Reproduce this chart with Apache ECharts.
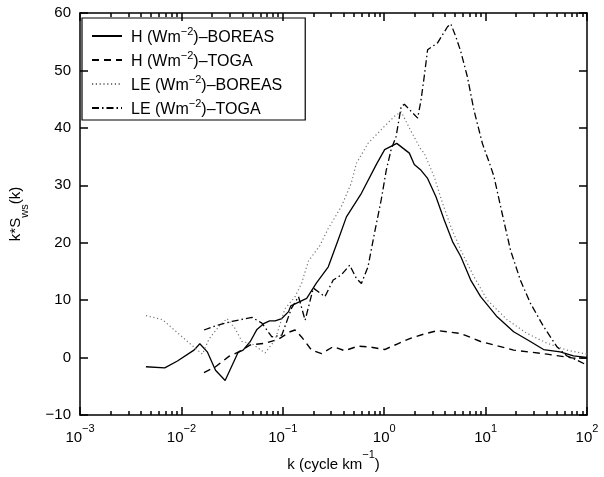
<!DOCTYPE html>
<html>
<head>
<meta charset="utf-8">
<script src="https://cdn.jsdelivr.net/npm/echarts@6/dist/echarts.min.js"></script>
<style>
  html, body { margin: 0; padding: 0; background: #fff; }
  #chart { width: 604px; height: 477px; }
</style>
</head>
<body>
<div id="chart"></div>
<script>
// series names (superscript handled in legend formatter)
const seriesNames = ['H BOREAS', 'H TOGA', 'LE BOREAS', 'LE TOGA']

// H (Wm-2) - BOREAS, solid
const hBoreasK = [0.00447, 0.00685, 0.00914, 0.0133, 0.0152, 0.0180, 0.0217, 0.0270, 0.0362, 0.0406, 0.0478, 0.0556, 0.0647, 0.0741, 0.0841, 0.0977, 0.114, 0.120, 0.172, 0.215, 0.281, 0.352, 0.424, 0.596, 0.835, 1.01, 1.33, 1.77, 1.98, 2.31, 2.68, 3.24, 3.90, 4.72, 5.69, 7.13, 8.93, 13.0, 18.9, 27.6, 37.3, 54.3, 73.5, 99.3]
const hBoreasV = [-1.6, -1.8, -0.6, 1.3, 2.4, 1.0, -2.2, -4.0, 0.9, 1.3, 2.8, 4.9, 5.9, 6.4, 6.4, 6.8, 8.0, 9.0, 10.3, 13.0, 15.8, 20.5, 24.5, 28.6, 33.6, 36.2, 37.3, 35.6, 33.6, 32.6, 31.2, 28.0, 24.0, 20.2, 17.6, 13.5, 10.6, 7.1, 4.5, 2.8, 1.4, 1.0, 0.3, 0.05]

// H (Wm-2) - TOGA, dashed
const hTogaK = [0.0167, 0.0217, 0.0294, 0.0368, 0.0478, 0.0670, 0.0908, 0.118, 0.132, 0.153, 0.192, 0.241, 0.314, 0.408, 0.552, 0.746, 1.01, 1.36, 1.84, 2.48, 3.36, 4.54, 5.69, 8.93, 18.9, 40.3, 73.5, 99.3]
const hTogaV = [-2.6, -1.6, 0.2, 1.0, 2.2, 2.5, 3.2, 4.5, 4.8, 3.6, 1.3, 0.7, 1.9, 1.2, 2.0, 1.8, 1.4, 2.4, 3.4, 4.1, 4.7, 4.4, 4.2, 2.8, 1.3, 0.6, -0.1, -0.1]

// LE (Wm-2) - BOREAS, dotted
const leBoreasK = [0.00447, 0.00652, 0.0102, 0.0144, 0.0161, 0.0187, 0.0234, 0.0282, 0.0340, 0.0396, 0.0497, 0.0670, 0.0841, 0.105, 0.132, 0.153, 0.179, 0.232, 0.281, 0.378, 0.474, 0.531, 0.692, 0.935, 1.26, 1.47, 1.84, 2.31, 2.48, 3.11, 3.76, 4.54, 5.69, 7.67, 10.4, 16.3, 25.6, 40.3, 63.2, 99.3]
const leBoreasV = [7.3, 6.6, 3.6, 1.3, 0.6, 3.2, 5.4, 6.8, 5.0, 2.8, 2.4, 0.8, 3.1, 8.5, 10.6, 12.9, 16.8, 19.5, 22.5, 26.3, 30.4, 33.8, 37.3, 39.7, 42.0, 42.8, 39.4, 36.2, 35.6, 31.5, 26.9, 22.8, 18.7, 14.1, 10.0, 6.6, 4.2, 2.5, 1.3, 0.6]

// LE (Wm-2) - TOGA, dash-dot
const leTogaK = [0.0167, 0.0234, 0.0316, 0.0497, 0.0622, 0.0780, 0.0977, 0.122, 0.143, 0.166, 0.200, 0.260, 0.314, 0.378, 0.457, 0.531, 0.596, 0.692, 0.803, 0.935, 1.05, 1.17, 1.31, 1.47, 1.58, 2.14, 2.31, 2.48, 2.68, 3.36, 4.21, 4.54, 5.08, 5.69, 6.61, 7.67, 9.29, 11.2, 12.1, 14.6, 17.6, 22.0, 27.6, 37.3, 50.5, 63.2, 85.3, 99.3]
const leTogaV = [4.8, 5.7, 6.3, 7.0, 6.0, 3.6, 3.9, 8.6, 10.6, 6.5, 12.1, 10.6, 13.5, 14.4, 16.1, 13.8, 12.9, 15.8, 21.7, 27.5, 32.7, 36.2, 38.5, 43.7, 44.1, 41.7, 44.9, 48.9, 53.6, 54.8, 57.6, 58.1, 55.9, 53.3, 48.9, 43.1, 37.3, 33.3, 31.5, 25.0, 18.7, 13.5, 9.5, 5.4, 1.9, 0.3, -0.7, -1.3]

// axis ticks
const xMajorTicks = [0.001, 0.01, 0.1, 1, 10, 100]
const xMinorTicks = []
for (let e = -3; e < 2; e++) {
  for (let m = 2; m < 10; m++) xMinorTicks.push(m * Math.pow(10, e))
}

const FONT = 'Liberation Sans, Arial, Helvetica, sans-serif'
const zip = (ks, vs) => ks.map((k, i) => [k, vs[i]])

function makeRich(size, supSize, lh) {
  return {
    t: { fontSize: size, fontFamily: FONT, color: '#000', lineHeight: lh, verticalAlign: 'bottom' },
    s: { fontSize: supSize, fontFamily: FONT, color: '#000', lineHeight: supSize + 2, verticalAlign: 'top' }
  }
}
const tickRich = makeRich(15, 11, 22)
const legendRich = makeRich(16, 11, 20)

const legendLabels = {
  'H BOREAS': '{t|H (Wm}{s|−2}{t|)–BOREAS}',
  'H TOGA': '{t|H (Wm}{s|−2}{t|)–TOGA}',
  'LE BOREAS': '{t|LE (Wm}{s|−2}{t|)–BOREAS}',
  'LE TOGA': '{t|LE (Wm}{s|−2}{t|)–TOGA}'
}

function expLabel(v) {
  const e = Math.round(Math.log10(v))
  return '{t|10}{s|' + (e < 0 ? '−' + (-e) : e) + '}'
}

const axisLineStyle = { color: '#000', width: 1.5 }

function logAxis(position, opts) {
  return Object.assign({
    type: 'log',
    logBase: 10,
    min: 0.001,
    max: 100,
    position: position,
    axisLine: { show: true, onZero: false, lineStyle: axisLineStyle },
    axisLabel: { show: false },
    splitLine: { show: false }
  }, opts)
}

const myChart = echarts.init(document.getElementById('chart'))
myChart.setOption({
  animation: false,
  backgroundColor: '#fff',
  grid: { left: 77, right: 17, top: 13, bottom: 62 },
  legend: {
    orient: 'vertical',
    left: 82,
    top: 18,
    itemWidth: 30,
    itemHeight: 14,
    itemGap: 4,
    padding: [8, 23, 2, 9],
    borderColor: '#000',
    borderWidth: 1.2,
    data: seriesNames,
    itemStyle: { opacity: 0 },
    formatter: name => legendLabels[name],
    textStyle: { padding: [0, 0, 0, 4], rich: legendRich }
  },
  xAxis: [
    logAxis('bottom', {
      name: '{t|k (cycle km}{s|−1}{t|)}',
      nameLocation: 'middle',
      nameGap: 30,
      nameTextStyle: { rich: tickRich },
      axisTick: { show: true, inside: true, length: 8, lineStyle: axisLineStyle, customValues: xMajorTicks },
      axisLabel: { show: true, margin: 8, customValues: xMajorTicks, formatter: expLabel, rich: tickRich }
    }),
    logAxis('bottom', {
      axisLine: { show: false, onZero: false },
      axisTick: { show: true, inside: true, length: 4, lineStyle: axisLineStyle, customValues: xMinorTicks }
    }),
    logAxis('top', {
      axisTick: { show: true, inside: true, length: 8, lineStyle: axisLineStyle, customValues: xMajorTicks }
    }),
    logAxis('top', {
      axisLine: { show: false, onZero: false },
      axisTick: { show: true, inside: true, length: 4, lineStyle: axisLineStyle, customValues: xMinorTicks }
    })
  ],
  yAxis: [
    {
      type: 'value',
      min: -10,
      max: 60,
      interval: 10,
      position: 'left',
      name: '{t|k*S}{u|ws}{t|(k)}',
      nameLocation: 'middle',
      nameGap: 50,
      nameTextStyle: {
        rich: {
          t: { fontSize: 15, fontFamily: FONT, color: '#000', lineHeight: 22, verticalAlign: 'top' },
          u: { fontSize: 11, fontFamily: FONT, color: '#000', lineHeight: 13, verticalAlign: 'bottom' }
        }
      },
      axisLine: { show: true, onZero: false, lineStyle: axisLineStyle },
      axisTick: { show: true, inside: true, length: 8, lineStyle: axisLineStyle },
      axisLabel: {
        margin: 9,
        fontSize: 15,
        fontFamily: FONT,
        color: '#000',
        formatter: v => (v < 0 ? '−' + (-v) : String(v))
      },
      splitLine: { show: false }
    },
    {
      type: 'value',
      min: -10,
      max: 60,
      interval: 10,
      position: 'right',
      axisLine: { show: true, onZero: false, lineStyle: axisLineStyle },
      axisTick: { show: true, inside: true, length: 8, lineStyle: axisLineStyle },
      axisLabel: { show: false },
      splitLine: { show: false }
    }
  ],
  series: [
    {
      name: 'H BOREAS', type: 'line', symbol: 'none',
      data: zip(hBoreasK, hBoreasV),
      lineStyle: { color: '#000', width: 1.3, type: 'solid' },
      itemStyle: { color: '#000' }
    },
    {
      name: 'H TOGA', type: 'line', symbol: 'none',
      data: zip(hTogaK, hTogaV),
      lineStyle: { color: '#000', width: 1.4, type: [7, 5] },
      itemStyle: { color: '#000' }
    },
    {
      name: 'LE BOREAS', type: 'line', symbol: 'none',
      data: zip(leBoreasK, leBoreasV),
      lineStyle: { color: '#777', width: 1.2, type: [1.2, 2.6] },
      itemStyle: { color: '#777' }
    },
    {
      name: 'LE TOGA', type: 'line', symbol: 'none',
      data: zip(leTogaK, leTogaV),
      lineStyle: { color: '#000', width: 1.3, type: [7, 3, 1.5, 3] },
      itemStyle: { color: '#000' }
    }
  ]
})
</script>
</body>
</html>
